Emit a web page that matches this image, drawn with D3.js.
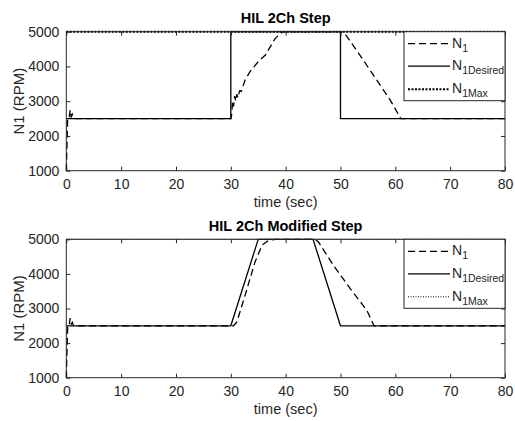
<!DOCTYPE html>
<html><head><meta charset="utf-8">
<script src="https://cdn.jsdelivr.net/npm/d3@7"></script>
<style>
html,body{margin:0;padding:0;background:#fff;}
svg{display:block;font-family:"Liberation Sans",Arial,sans-serif;}
</style></head>
<body><svg id="c" width="515" height="421"></svg>
<script>
// ---- data ----
const xTicks = [0,10,20,30,40,50,60,70,80];
const yTicks = [1000,2000,3000,4000,5000];
const titles = ["HIL 2Ch Step","HIL 2Ch Modified Step"];

const stepN1Time = [0,0.25,0.5,0.7,0.9,1.1,1.3,1.6,3,30,30.2,30.3,30.5,30.7,30.9,31.1,31.3,31.6,31.9,32.6,33.5,35,36.3,38.1,39.5,50,50.8,53,56,59,61,80];
const stepN1Val  = [1000,2500,2500,2750,2550,2620,2520,2500,2500,2500,2650,3000,2850,3150,3000,3200,3100,3300,3280,3610,3850,4140,4330,4810,5000,5000,4950,4450,3750,3050,2500,2500];
const stepDesTime = [0,30,30,50,50,80];
const stepDesVal  = [2500,2500,5000,5000,2500,2500];

const modN1Time = [0,0.25,0.5,0.7,0.9,1.1,1.3,1.6,3,30.5,31.1,32.6,34.4,35.7,36.9,38.1,45.3,46,48.7,51.8,54.8,56.1,80];
const modN1Val  = [1000,2500,2500,2720,2550,2600,2510,2500,2500,2500,2610,3380,4340,4830,4970,5000,5000,4920,4250,3570,2950,2500,2500];
const modDesTime = [0,30,35,45,50,80];
const modDesVal  = [2500,2500,5000,5000,2500,2500];

const maxTime = [0,80];
const maxVal  = [5000,5000];

// ---- drawing ----
const svg = d3.select("#c");
const C = "#262626";
const L = 66.3, R = 505;
const panels = [
  {top:31.7, bot:170.7, n1:[stepN1Time,stepN1Val], des:[stepDesTime,stepDesVal], maxStyle:{w:2,dash:"2,1.5"}, title:titles[0]},
  {top:239.3, bot:377.7, n1:[modN1Time,modN1Val], des:[modDesTime,modDesVal], maxStyle:{w:1,dash:"1,1.5"}, title:titles[1]}
];

panels.forEach(p => {
  const x = d3.scaleLinear().domain([0,80]).range([L,R]);
  const y = d3.scaleLinear().domain([1000,5000]).range([p.bot,p.top]);
  const g = svg.append("g");
  const line = d3.line().x(d=>x(d[0])).y(d=>y(d[1]));
  const zip = (a)=>a[0].map((t,i)=>[t,a[1][i]]);

  g.append("path").attr("d",line(zip(p.des))).attr("fill","none").attr("stroke","#000").attr("stroke-width",1.3);
  g.append("path").attr("d",line(zip(p.n1))).attr("fill","none").attr("stroke","#000").attr("stroke-width",1.3).attr("stroke-dasharray","7,4");
  g.append("path").attr("d",line(zip([maxTime,maxVal]))).attr("fill","none").attr("stroke","#000").attr("stroke-width",p.maxStyle.w).attr("stroke-dasharray",p.maxStyle.dash);

  // axes (ticks inward, mirrored)
  const ax = (gen, tr) => {
    const a = g.append("g").attr("transform",tr).call(gen);
    a.select(".domain").remove();
    a.selectAll("line").attr("stroke",C);
    a.selectAll("text").attr("fill",C).style("font-size","14px").style("font-family","Liberation Sans, Arial, sans-serif");
    return a;
  };
  ax(d3.axisBottom(x).tickValues(xTicks).tickSize(-4).tickPadding(8), `translate(0,${p.bot})`);
  ax(d3.axisTop(x).tickValues(xTicks).tickSize(-4).tickFormat(""), `translate(0,${p.top})`);
  ax(d3.axisLeft(y).tickValues(yTicks).tickSize(-4).tickPadding(7).tickFormat(d3.format("d")), `translate(${L},0)`);
  ax(d3.axisRight(y).tickValues(yTicks).tickSize(-4).tickFormat(""), `translate(${R},0)`);
  g.append("rect").attr("x",L).attr("y",p.top).attr("width",R-L).attr("height",p.bot-p.top)
    .attr("fill","none").attr("stroke",C).attr("stroke-width",1);

  // legend
  const lx = 404, ly = p.top, lw = R-404, lh = 69;
  const lg = g.append("g");
  lg.append("rect").attr("x",lx).attr("y",ly).attr("width",lw).attr("height",lh).attr("fill","#fff").attr("stroke",C).attr("stroke-width",1);
  const rows = [
    {sub:"1", dash:"7,4", w:1.3, off:12},
    {sub:"1Desired", dash:null, w:1.3, off:34.5},
    {sub:"1Max", dash:p.maxStyle.dash, w:p.maxStyle.w, off:57.5}
  ];
  rows.forEach((r,i)=>{
    const yy = ly + r.off;
    const ln = lg.append("line").attr("x1",408).attr("x2",450).attr("y1",yy).attr("y2",yy).attr("stroke","#000").attr("stroke-width",r.w);
    if (r.dash) ln.attr("stroke-dasharray",r.dash);
    const t = lg.append("text").attr("x",452).attr("y",yy+4).attr("fill",C).style("font-size","14px");
    t.append("tspan").text("N");
    t.append("tspan").attr("dy",4).style("font-size","10.5px").text(r.sub);
  });

  // title
  g.append("text").attr("x",(L+R)/2).attr("y",p.top-8.5).attr("text-anchor","middle")
    .attr("fill","#000").style("font-size","14.5px").style("font-weight","bold").text(p.title);
  // x label
  g.append("text").attr("x",(L+R)/2).attr("y",p.bot+36).attr("text-anchor","middle")
    .attr("fill",C).style("font-size","14.5px").text("time (sec)");
  // y label
  g.append("text").attr("transform",`translate(24,${(p.top+p.bot)/2}) rotate(-90)`).attr("text-anchor","middle")
    .attr("fill",C).style("font-size","15px").text("N1 (RPM)");
});
</script></body></html>
